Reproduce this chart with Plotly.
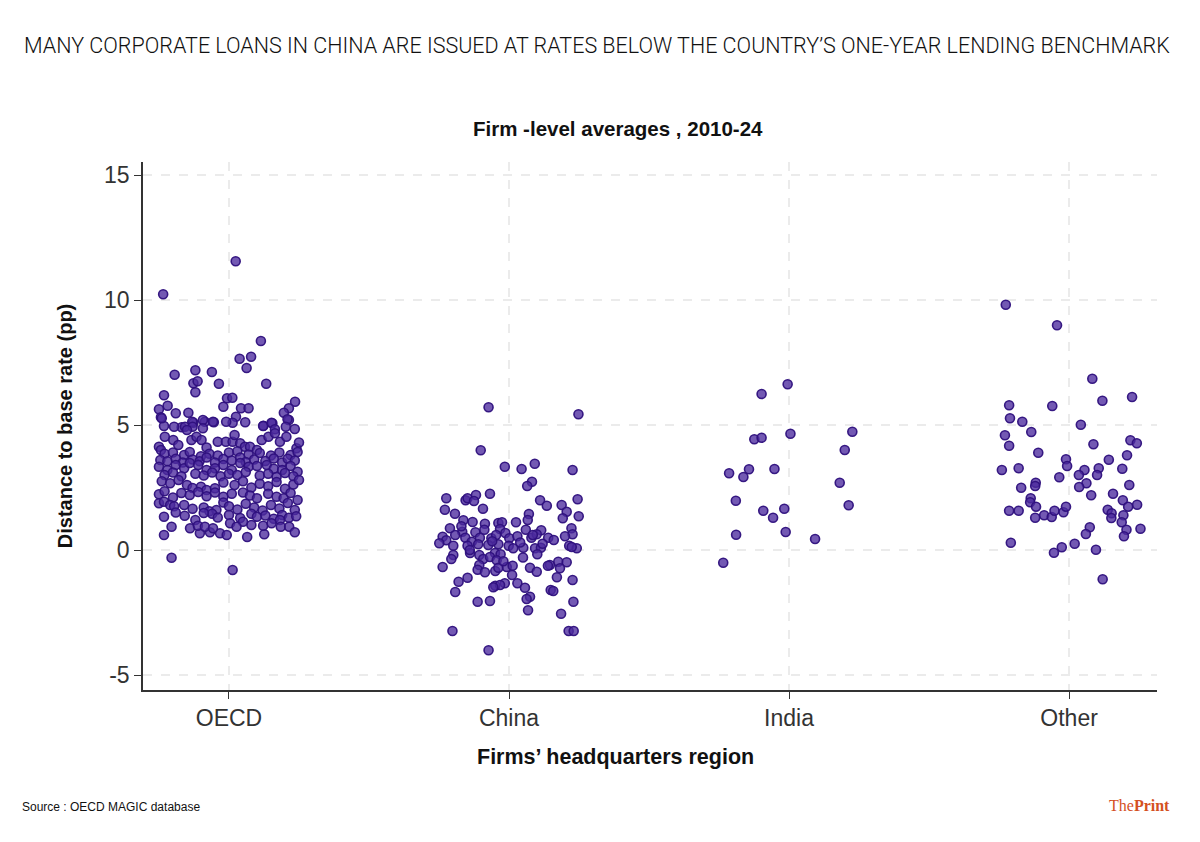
import plotly.graph_objects as go

categories = ["OECD", "China", "India", "Other"]

# OECD: horizontal jitter (category units) and distance to base rate (pp)
oecd_jitter = [
    0.024, -0.235, 0.114, 0.038, 0.079, 0.063, -0.194, -0.12, -0.061, -0.127,
    -0.112, -0.12, -0.036, 0.133, -0.232, -0.007, 0.012, -0.02, -0.219, -0.25,
    -0.243, -0.19, -0.145, 0.043, 0.07, 0.236, 0.214, 0.196, 0.214, 0.025,
    0.013, 0.058, 0.123, 0.155, -0.232, -0.054, -0.086, -0.127, -0.169,
    -0.24, -0.01, -0.093, -0.057, -0.131, 0.209, -0.196, -0.157, -0.13, -0.15,
    -0.093, 0.122, 0.152, 0.164, 0.203, 0.235, -0.229, -0.25, -0.243, -0.199,
    -0.181, -0.134, -0.116, -0.098, -0.04, -0.011, 0.013, 0.02, 0.04, 0.057,
    0.075, 0.117, 0.141, 0.164, 0.182, 0.205, 0.241, 0.25, -0.08, 0.1,
    -0.23, -0.2, -0.16, -0.14, -0.1, -0.07, -0.04, 0.0, 0.03, 0.07,
    0.11, 0.15, 0.18, 0.22, 0.245,
    -0.245, -0.22, -0.19, -0.165, -0.13, -0.105, -0.08, -0.05, -0.02, 0.01,
    0.04, 0.06, 0.09, 0.13, 0.16, 0.19, 0.21, 0.235,
    -0.25, -0.22, -0.19, -0.16, -0.14, -0.11, -0.08, -0.05, -0.02, 0.01,
    0.04, 0.07, 0.1, 0.135, 0.16, 0.19, 0.22, 0.245,
    -0.23, -0.2, -0.17, -0.12, -0.09, -0.06, -0.03, 0.0, 0.03, 0.06,
    0.11, 0.14, 0.17, 0.2, 0.23,
    -0.24, -0.21, -0.18, -0.15, -0.13, -0.1, -0.08, -0.05, -0.02, 0.02,
    0.05, 0.08, 0.11, 0.14, 0.17, 0.2, 0.23, 0.25,
    -0.25, -0.23, -0.2, -0.17, -0.14, -0.11, -0.08, -0.05, -0.02, 0.01,
    0.05, 0.075, 0.1, 0.14, 0.17, 0.195, 0.22, 0.245,
    -0.25, -0.232, -0.21, -0.196, -0.16, -0.13, -0.09, -0.07, -0.045, -0.02,
    0.0, 0.03, 0.06, 0.09, 0.12, 0.15, 0.18, 0.21, 0.235,
    -0.232, -0.158, -0.12, -0.06, -0.04, 0.0, 0.04, 0.08, 0.1, 0.13,
    0.16, 0.19, 0.214, 0.24, 0.182, -0.19, -0.09,
    -0.232, -0.205, 0.065, -0.104, -0.068, -0.139, -0.032, -0.008, 0.004, 0.126,
    0.122, 0.152, 0.185, 0.215, 0.235, -0.111, -0.086, -0.057, 0.08, 0.05,
    0.027, -0.205, 0.013,
]
oecd_values = [
    11.55, 10.23, 8.36, 7.65, 7.73, 7.28, 7.01, 7.19, 7.12, 6.67,
    6.75, 6.31, 6.65, 6.65, 6.19, 6.07, 6.09, 5.73, 5.77, 5.63,
    5.31, 5.47, 5.49, 5.67, 5.67, 5.93, 5.67, 5.49, 5.2, 5.33,
    5.09, 5.11, 4.97, 5.07, 4.96, 5.11, 5.13, 5.09, 4.91,
    5.27, 5.13, 5.2, 5.13, 5.13, 5.23, 4.93, 4.93, 4.93, 4.8,
    4.87, 4.96, 5.09, 4.83, 4.93, 4.84, 4.53, 4.13, 4.0, 4.4,
    4.2, 4.4, 4.53, 4.4, 4.33, 4.33, 4.33, 4.6, 4.27, 4.13,
    4.13, 4.4, 4.53, 4.67, 4.33, 4.53, 4.07, 4.3, 4.1, 4.0,
    3.85, 3.9, 3.8, 3.92, 3.75, 3.85, 3.78, 3.9, 3.95, 3.82,
    3.88, 3.78, 3.9, 3.8, 3.92,
    3.6, 3.55, 3.65, 3.5, 3.62, 3.55, 3.7, 3.5, 3.64, 3.58,
    3.7, 3.52, 3.62, 3.56, 3.66, 3.5, 3.65, 3.58,
    3.33, 3.2, 3.4, 3.27, 3.48, 3.4, 3.2, 3.27, 3.4, 3.2,
    3.48, 3.33, 3.36, 3.4, 3.25, 3.2, 3.36, 3.13,
    3.0, 3.1, 2.95, 3.05, 2.98, 3.1, 2.95, 3.05, 3.0, 3.12,
    2.98, 3.05, 2.92, 3.08, 2.95,
    2.75, 2.67, 2.8, 2.6, 2.48, 2.53, 2.4, 2.47, 2.7, 2.6,
    2.75, 2.5, 2.65, 2.55, 2.72, 2.45, 2.62, 2.8,
    2.23, 2.35, 2.1, 2.28, 2.2, 2.32, 2.15, 2.3, 2.13, 2.25,
    2.3, 2.18, 2.07, 2.25, 2.13, 2.07, 2.28, 2.0,
    1.87, 1.93, 1.8, 1.75, 1.8, 1.65, 1.7, 1.55, 1.6, 1.9,
    1.75, 1.62, 1.85, 1.7, 1.58, 1.8, 1.66, 1.88, 1.6,
    1.33, 1.37, 1.2, 1.45, 1.3, 1.4, 1.28, 1.45, 1.33, 1.38,
    1.25, 1.4, 1.29, 1.35, 1.2, 1.5, 1.48,
    0.6, 0.93, 0.52, 0.67, 0.71, 0.87, 0.67, 0.6, 1.07, 0.63,
    0.97, 1.07, 0.93, 0.93, 0.71, 0.97, 0.93, 0.87, 1.0, 1.13,
    0.93, -0.31, -0.8,
]

china_jitter = [
    -0.073, 0.248, -0.101, -0.015, 0.045, 0.092, 0.227, 0.082, 0.065, -0.224,
    -0.155, -0.148, -0.118, -0.125, -0.068, -0.093, -0.229, 0.111, 0.135, 0.188,
    0.245, 0.206, 0.192, 0.249, -0.193, -0.163, 0.071, 0.067, -0.13, -0.086,
    -0.038, -0.025, 0.025, -0.211, -0.167, -0.12, -0.088, -0.032, -0.013, 0.06,
    0.115, 0.223, 0.227, -0.237, -0.224, -0.192, -0.156, -0.133, -0.104, -0.063,
    -0.046, 0.001, 0.03, 0.08, 0.099, 0.14, -0.249, -0.199, -0.148, -0.11,
    -0.074, -0.038, -0.001, 0.015, 0.051, 0.093, 0.114, 0.215, 0.242, 0.224,
    -0.199, -0.139, -0.106, -0.05, -0.03, 0.101, -0.206, -0.092, -0.068, -0.044,
    0.176, 0.206, 0.146, 0.139, -0.237, -0.106, -0.008, 0.013, 0.075, 0.182,
    -0.112, -0.086, -0.049, -0.038, 0.011, 0.099, 0.171, -0.148, -0.18, 0.227,
    -0.015, 0.03, -0.049, -0.032, -0.056, 0.057, 0.149, 0.158, -0.192, 0.075,
    0.063, -0.068, -0.112, 0.23, 0.068, 0.186, -0.202, 0.213, 0.231, -0.073,
    -0.17, -0.06, 0.04, 0.12, 0.16, -0.02, 0.05, -0.14, 0.2, 0.085,
]
china_values = [
    5.71, 5.43, 3.99, 3.33, 3.24, 3.45, 3.2, 2.73, 2.56, 2.07,
    1.99, 2.07, 2.2, 1.96, 2.25, 1.65, 1.61, 1.99, 1.77, 1.8,
    2.03, 1.53, 1.27, 1.35, 1.45, 1.19, 1.44, 1.2, 1.12, 1.05,
    1.08, 1.11, 1.11, 0.87, 0.73, 0.71, 0.81, 0.84, 0.68, 0.81,
    0.79, 0.87, 0.63, 0.53, 0.39, 0.6, 0.49, 0.33, 0.49, 0.47,
    0.6, 0.47, 0.55, 0.49, 0.63, 0.49, 0.27, 0.17, 0.17, 0.23,
    0.2, 0.23, 0.17, 0.07, 0.09, 0.07, 0.09, 0.17, 0.07, 0.12,
    -0.2, -0.12, -0.2, -0.12, -0.17, -0.17, -0.36, -0.36, -0.28, -0.41,
    -0.47, -0.49, -0.6, -0.63, -0.68, -0.6, -0.68, -0.63, -0.71, -0.73,
    -0.79, -0.89, -0.84, -0.71, -1.0, -0.87, -1.09, -1.11, -1.27, -1.2,
    -1.33, -1.33, -1.43, -1.4, -1.49, -1.51, -1.6, -1.64, -1.68, -1.87,
    -1.96, -2.04, -2.07, -2.07, -2.41, -2.55, -3.24, -3.24, -3.24, -4.01,
    0.95, 0.35, 0.3, 0.25, 0.4, -0.45, -0.3, 0.0, 0.55, 0.6,
]

india_jitter = [
    -0.005, -0.098, 0.226, 0.005, -0.124, -0.098, 0.199, -0.214, -0.143, -0.163,
    -0.052, 0.181, -0.19, 0.213, -0.092, -0.017, -0.057, -0.189, -0.012, 0.093,
    -0.235,
]
india_values = [
    6.63, 6.24, 4.73, 4.65, 4.43, 4.49, 4.0, 3.07, 3.23, 2.92,
    3.24, 2.69, 1.97, 1.79, 1.57, 1.65, 1.29, 0.61, 0.72, 0.44,
    -0.51,
]

other_jitter = [
    -0.226, -0.043, 0.083, 0.119, 0.225, -0.214, -0.06, -0.211, -0.167, 0.042,
    -0.135, -0.229, -0.214, 0.087, 0.219, 0.242, -0.11, 0.207, 0.142, -0.011,
    -0.007, -0.24, -0.18, 0.055, 0.106, 0.035, 0.1, 0.19, -0.035, -0.119,
    -0.121, 0.062, 0.036, -0.171, 0.215, 0.079, 0.157, -0.137, -0.139, -0.118,
    0.192, 0.211, 0.243, -0.214, -0.18, -0.121, -0.089, -0.062, -0.052, -0.02,
    -0.011, 0.138, 0.152, 0.151, 0.194, 0.188, 0.205, 0.196, 0.255, 0.074,
    0.06, -0.208, 0.02, -0.026, -0.054, 0.096, 0.12,
]
other_values = [
    9.81, 8.99, 6.85, 5.97, 6.12, 5.79, 5.76, 5.27, 5.13, 5.01,
    4.72, 4.59, 4.17, 4.23, 4.39, 4.27, 3.89, 3.79, 3.61, 3.63,
    3.36, 3.2, 3.27, 3.2, 3.27, 3.0, 3.0, 3.25, 2.91, 2.69,
    2.56, 2.67, 2.52, 2.49, 2.6, 2.19, 2.25, 2.07, 1.91, 1.73,
    1.99, 1.73, 1.81, 1.57, 1.57, 1.29, 1.39, 1.32, 1.57, 1.51,
    1.73, 1.61, 1.47, 1.28, 1.39, 1.11, 0.81, 0.55, 0.85, 0.91,
    0.64, 0.29, 0.25, 0.11, -0.11, 0.01, -1.17,
]

y_ticks = [-5, 0, 5, 10, 15]

groups = [oecd_jitter, china_jitter, india_jitter, other_jitter]
values = [oecd_values, china_values, india_values, other_values]

fig = go.Figure()
for i, (jit, vals) in enumerate(zip(groups, values)):
    fig.add_trace(go.Scatter(
        x=[i + j for j in jit],
        y=vals,
        mode="markers",
        name=categories[i],
        marker=dict(size=9, color="rgba(76,42,158,0.78)",
                    line=dict(color="rgba(46,16,125,0.95)", width=1.6)),
        showlegend=False,
        hoverinfo="y",
    ))

fig.add_hline(y=0, line=dict(color="#a0a0a0", width=2, dash="dash"), layer="below")

sans = "Liberation Sans, Arial, sans-serif"
axis_font = dict(family=sans, size=23, color="#333333")

fig.update_layout(
    width=1200, height=842,
    margin=dict(l=143, r=43, t=162, b=152),
    paper_bgcolor="white", plot_bgcolor="white",
    xaxis=dict(
        range=[-0.307, 3.314],
        tickmode="array", tickvals=list(range(len(categories))), ticktext=categories,
        showline=True, linecolor="#333333", linewidth=1.5,
        ticks="outside", ticklen=7, tickcolor="#333333", tickwidth=1.2,
        showgrid=True, gridcolor="#ebebeb", griddash="dash", gridwidth=1.5,
        zeroline=False, tickfont=axis_font,
    ),
    yaxis=dict(
        range=[-5.6, 15.52],
        tickmode="array", tickvals=y_ticks, ticktext=[str(t) for t in y_ticks],
        showline=True, linecolor="#333333", linewidth=1.5,
        ticks="outside", ticklen=7, tickcolor="#333333", tickwidth=1.2,
        showgrid=True, gridcolor="#ebebeb", griddash="dash", gridwidth=1.5,
        zeroline=False, tickfont=axis_font,
        title=dict(text="<b>Distance to base rate (pp)</b>",
                   font=dict(family=sans, size=20, color="#111111"), standoff=26),
    ),
    annotations=[
        dict(text="MANY CORPORATE LOANS IN CHINA ARE ISSUED AT RATES BELOW THE COUNTRY’S ONE-YEAR LENDING BENCHMARK",
             xref="paper", yref="paper", x=-0.119, y=1.0, xanchor="left", yanchor="bottom",
             yshift=102, showarrow=False,
             font=dict(family="Roboto, Liberation Sans, sans-serif", weight=300,
                       size=21.5, color="#111111")),
        dict(text="<b>Firm -level averages , 2010-24</b>",
             xref="paper", yref="paper", x=0.468, y=1.0, xanchor="center", yanchor="bottom",
             yshift=20, showarrow=False,
             font=dict(family=sans, size=20.5, color="#111111")),
        dict(text="<b>Firms’ headquarters region</b>",
             xref="paper", yref="paper", x=0.4655, y=0.0, xanchor="center", yanchor="middle",
             yshift=-67, showarrow=False,
             font=dict(family=sans, size=21.5, color="#111111")),
        dict(text="Source : OECD MAGIC database",
             xref="paper", yref="paper", x=-0.1215, y=0.0, xanchor="left", yanchor="top",
             yshift=-108, showarrow=False,
             font=dict(family=sans, size=12, color="#111111")),
        dict(text="The<b>Print</b>",
             xref="paper", yref="paper", x=1.015, y=0.0, xanchor="right", yanchor="top",
             yshift=-105, showarrow=False,
             font=dict(family="Liberation Serif, DejaVu Serif, serif", size=16, color="#d4501f")),
    ],
)

fig.write_html("out.html")
